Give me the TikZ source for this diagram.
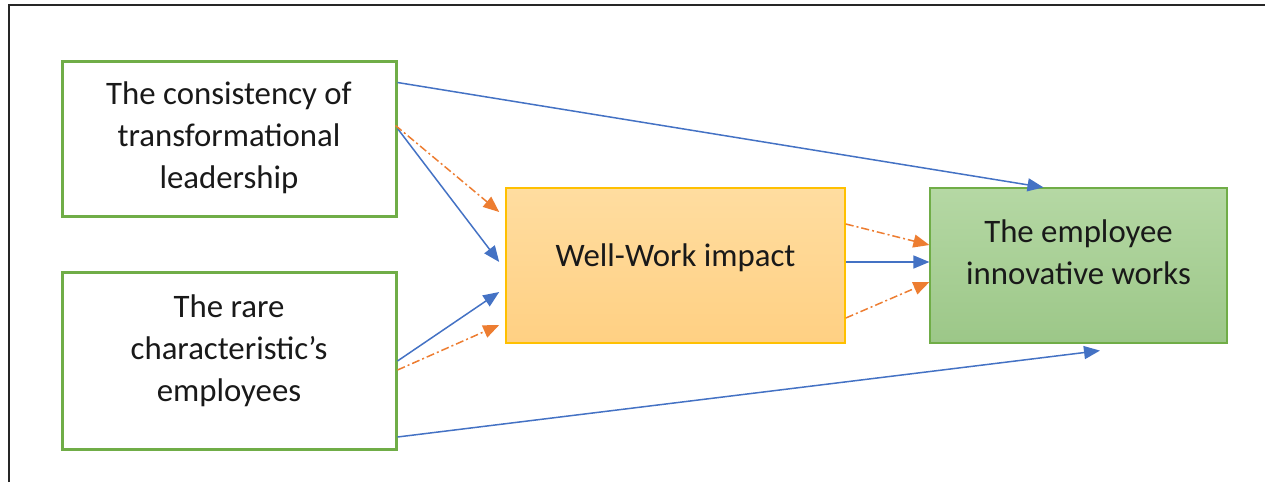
\documentclass[tikz,border=0pt]{standalone}
\usepackage{fontspec}
\setmainfont{Carlito}
\usetikzlibrary{arrows.meta}
\definecolor{gbord}{HTML}{70AD47}
\definecolor{ybord}{HTML}{FFC000}
\definecolor{barrow}{HTML}{4472C4}
\definecolor{oarrow}{HTML}{ED7D31}
\definecolor{gtop}{HTML}{B5D8A4}
\definecolor{gbot}{HTML}{9CC788}
\definecolor{otop}{HTML}{FFDDA0}
\definecolor{obot}{HTML}{FFD083}
\tikzset{
  txt/.style={font=\fontsize{32.8}{42}\selectfont, align=center, text=black!90, inner sep=0pt},
  inbox/.style={draw=gbord, line width=3pt, fill=white, minimum width=334pt, inner sep=0pt},
  midbox/.style={draw=ybord, line width=1.6pt, top color=otop, bottom color=obot, minimum width=339pt, minimum height=155pt, inner sep=0pt},
  outbox/.style={draw=gbord, line width=1.2pt, top color=gtop, bottom color=gbot, minimum width=297pt, minimum height=155pt, inner sep=0pt},
  blu/.style={draw=barrow, line width=1.5pt, -{Triangle[length=16pt,width=13pt]}},
  ora/.style={draw=oarrow, line width=1.5pt, dash pattern=on 8pt off 3pt on 2pt off 3pt, -{Triangle[length=16pt,width=13pt]}}
}
\begin{document}
\begin{tikzpicture}[x=1pt,y=-1pt]
\useasboundingbox (0,0) rectangle (1265,482);
\draw[line width=2pt, black!85] (9,482) -- (9,5) -- (1265,5);
\node[inbox, minimum height=155pt] (b1) at (229,138.5) {};
\node[inbox, minimum height=177pt] (b2) at (229,360.5) {};
\node[midbox] (mid) at (675.5,265.5) {};
\node[outbox] (rt) at (1078.5,265.5) {};
\node[txt] (t1) at ([yshift=1pt]b1.center) {The consistency of\\transformational\\leadership};
\node[txt] (t2) at ([yshift=10pt]b2.center) {The rare\\characteristic’s\\employees};
\node[txt] (t3) at ([yshift=8pt]mid.center) {Well-Work impact};
\node[txt] (t4) at ([yshift=13pt]rt.center) {The employee\\innovative works};
% arrows from box 1
\draw[blu] ([yshift=-23pt]b1.north east) -- ([xshift=-35pt]rt.north);
\draw[blu] ([yshift=-69pt]b1.north east) -- ([xshift=-6pt,yshift=3.5pt]mid.west);
\draw[ora] ([yshift=-66pt,xshift=-2pt]b1.north east) -- ([xshift=-6pt,yshift=53.5pt]mid.west);
% arrows from box 2
\draw[blu] ([yshift=-0.5pt]b2.east) -- ([xshift=-6pt,yshift=-26.5pt]mid.west);
\draw[ora] ([yshift=-9.5pt]b2.east) -- ([xshift=-6pt,yshift=-59.5pt]mid.west);
\draw[blu] ([yshift=-76.5pt]b2.east) -- ([xshift=21.5pt,yshift=-7pt]rt.south);
% arrows from middle
\draw[ora] ([yshift=41.5pt]mid.east) -- ([yshift=20.5pt]rt.west);
\draw[blu] ([yshift=3.5pt]mid.east) -- ([yshift=3.5pt]rt.west);
\draw[ora] ([yshift=-52.5pt]mid.east) -- ([yshift=-16.5pt]rt.west);
\end{tikzpicture}
\end{document}
